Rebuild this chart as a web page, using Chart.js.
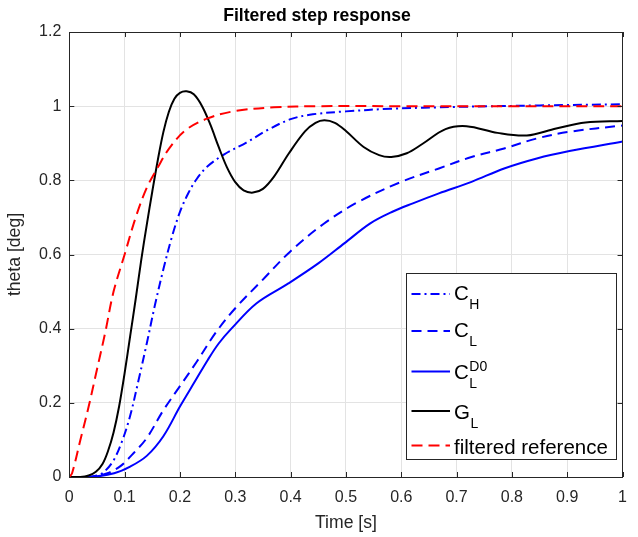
<!DOCTYPE html>
<html>
<head>
<meta charset="utf-8">
<script src="https://cdn.jsdelivr.net/npm/chart.js@4/dist/chart.umd.min.js"></script>
<style>
  html, body { margin: 0; padding: 0; background: #fff; }
  canvas { display: block; }
</style>
</head>
<body>
<canvas id="chart" width="638" height="537"></canvas>
<script>
// Tick labels
const xTicks = [0, 0.1, 0.2, 0.3, 0.4, 0.5, 0.6, 0.7, 0.8, 0.9, 1];
const yTicks = [0, 0.2, 0.4, 0.6, 0.8, 1, 1.2];

// C_H (dash-dot blue)
const tCH = [0, 0.03, 0.05, 0.063, 0.08, 0.095, 0.11, 0.125, 0.14, 0.155, 0.17, 0.185, 0.2, 0.215, 0.23, 0.25, 0.28, 0.32, 0.36, 0.4, 0.44, 0.5, 0.58, 0.7, 0.85, 1.0];
const yCH = [0, 0, 0.004, 0.014, 0.045, 0.095, 0.165, 0.26, 0.36, 0.465, 0.56, 0.645, 0.715, 0.765, 0.803, 0.838, 0.87, 0.902, 0.937, 0.965, 0.978, 0.986, 0.993, 0.998, 1.002, 1.005];

// C_L (dashed blue)
const tCL = [0, 0.04, 0.069, 0.093, 0.116, 0.14, 0.17, 0.2, 0.23, 0.265, 0.3, 0.349, 0.4, 0.46, 0.52, 0.6, 0.668, 0.727, 0.786, 0.845, 0.904, 1.0];
const yCL = [0, 0, 0.01, 0.03, 0.064, 0.105, 0.18, 0.245, 0.31, 0.39, 0.455, 0.531, 0.609, 0.683, 0.74, 0.796, 0.832, 0.863, 0.886, 0.913, 0.931, 0.948];

// C_L^D0 (solid blue)
const tCD = [0, 0.04, 0.081, 0.11, 0.14, 0.17, 0.2, 0.228, 0.25, 0.27, 0.293, 0.338, 0.396, 0.45, 0.497, 0.544, 0.585, 0.621, 0.668, 0.727, 0.786, 0.845, 0.904, 1.0];
const yCD = [0, 0, 0.01, 0.028, 0.057, 0.11, 0.19, 0.26, 0.315, 0.36, 0.4, 0.468, 0.522, 0.576, 0.63, 0.684, 0.716, 0.738, 0.765, 0.796, 0.832, 0.859, 0.879, 0.905];

// G_L (solid black)
const tGL = [0, 0.02, 0.035, 0.048, 0.06, 0.07, 0.08, 0.09, 0.1, 0.11, 0.12, 0.13, 0.14, 0.15, 0.16, 0.17, 0.18, 0.19, 0.2, 0.212, 0.225, 0.24, 0.255, 0.27, 0.285, 0.3, 0.315, 0.332, 0.35, 0.37, 0.397, 0.426, 0.445, 0.461, 0.48, 0.5, 0.532, 0.56, 0.582, 0.61, 0.638, 0.68, 0.718, 0.774, 0.827, 0.88, 0.933, 1.0];
const yGL = [0, 0, 0.004, 0.014, 0.035, 0.07, 0.12, 0.19, 0.28, 0.38, 0.48, 0.585, 0.68, 0.77, 0.855, 0.93, 0.985, 1.02, 1.036, 1.04, 1.032, 1.0, 0.95, 0.89, 0.835, 0.795, 0.773, 0.767, 0.777, 0.81, 0.873, 0.932, 0.955, 0.962, 0.955, 0.933, 0.89, 0.868, 0.863, 0.873, 0.898, 0.938, 0.946, 0.928, 0.921, 0.94, 0.956, 0.96];

// filtered reference (dashed red)
const tRef = [0, 0.005, 0.02, 0.035, 0.05, 0.065, 0.08, 0.1, 0.12, 0.14, 0.16, 0.18, 0.21, 0.25, 0.3, 0.37, 0.45, 0.6, 0.8, 1.0];
const yRef = [0, 0.01, 0.1, 0.19, 0.29, 0.39, 0.5, 0.6, 0.7, 0.78, 0.835, 0.885, 0.935, 0.967, 0.987, 0.997, 1.0, 1.0, 1.0, 1.0];

const toPts = (t, y) => t.map((v, i) => ({ x: v, y: y[i] }));

const AXIS = '#262626';
const FONT = "'Liberation Sans', Arial, Helvetica, sans-serif";

// legend entries: main text, subscript, superscript
const legendItems = [
    { main: 'C', sub: 'H', sup: '' },
    { main: 'C', sub: 'L', sup: '' },
    { main: 'C', sub: 'L', sup: 'D0' },
    { main: 'G', sub: 'L', sup: '' },
    { main: 'filtered reference', sub: '', sup: '' }
];

function mkSet(t, y, color, dash, order) {
    return {
        data: toPts(t, y),
        borderColor: color,
        borderWidth: 2,
        borderDash: dash,
        pointRadius: 0,
        fill: false,
        tension: 0.35,
        order: order
    };
}

// inward ticks + box, like matlab
const boxPlugin = {
    id: 'box',
    afterDatasetsDraw(chart) {
        const { ctx, chartArea: a, scales } = chart;
        ctx.save();
        ctx.strokeStyle = AXIS;
        ctx.lineWidth = 1;
        ctx.beginPath();
        xTicks.forEach(v => {
            const px = Math.round(scales.x.getPixelForValue(v)) + 0.5;
            ctx.moveTo(px, a.bottom); ctx.lineTo(px, a.bottom - 5);
            ctx.moveTo(px, a.top); ctx.lineTo(px, a.top + 5);
        });
        yTicks.forEach(v => {
            const py = Math.round(scales.y.getPixelForValue(v)) + 0.5;
            ctx.moveTo(a.left, py); ctx.lineTo(a.left + 5, py);
            ctx.moveTo(a.right, py); ctx.lineTo(a.right - 5, py);
        });
        ctx.stroke();
        ctx.strokeRect(Math.round(a.left) + 0.5, Math.round(a.top) + 0.5,
            Math.round(a.right - a.left), Math.round(a.bottom - a.top));
        ctx.restore();
    }
};

const legendPlugin = {
    id: 'mlegend',
    afterDraw(chart) {
        const ctx = chart.ctx;
        const bx = 406.5, by = 273.5, bw = 210, bh = 186;
        ctx.save();
        ctx.fillStyle = '#fff';
        ctx.fillRect(bx, by, bw, bh);
        ctx.strokeStyle = AXIS;
        ctx.lineWidth = 1;
        ctx.strokeRect(bx, by, bw, bh);

        const rows = [294, 331, 371.5, 411, 445.5];
        const base = [299.5, 337, 378.5, 418.5, 453.5];
        const sets = chart.data.datasets;
        legendItems.forEach((it, i) => {
            const ds = sets[i];
            ctx.strokeStyle = ds.borderColor;
            ctx.lineWidth = 2;
            ctx.setLineDash(ds.borderDash || []);
            ctx.beginPath();
            ctx.moveTo(411.5, rows[i]);
            ctx.lineTo(450, rows[i]);
            ctx.stroke();
            ctx.setLineDash([]);

            ctx.fillStyle = '#000';
            ctx.textBaseline = 'alphabetic';
            ctx.textAlign = 'left';
            ctx.font = '20.5px ' + FONT;
            ctx.fillText(it.main, 454, base[i]);
            const w = ctx.measureText(it.main).width;
            ctx.font = '14px ' + FONT;
            if (it.sub) ctx.fillText(it.sub, 454 + w + 0.5, base[i] + 9);
            if (it.sup) ctx.fillText(it.sup, 454 + w + 0.5, base[i] - 8);
        });
        ctx.restore();
    }
};

new Chart(document.getElementById('chart'), {
    type: 'line',
    data: {
        datasets: [
            mkSet(tCH, yCH, '#0000ff', [9, 4, 2, 4], 5),
            mkSet(tCL, yCL, '#0000ff', [10, 6], 4),
            mkSet(tCD, yCD, '#0000ff', [], 3),
            mkSet(tGL, yGL, '#000000', [], 2),
            mkSet(tRef, yRef, '#ff0000', [11, 6], 1)
        ]
    },
    options: {
        responsive: false,
        animation: false,
        devicePixelRatio: 1,
        layout: { padding: { left: 0, right: 4, top: 0, bottom: 0 } },
        plugins: {
            legend: { display: false },
            tooltip: { enabled: false },
            title: {
                display: true,
                text: 'Filtered step response',
                color: '#000',
                font: { family: FONT, size: 17.6, weight: 'bold', lineHeight: 1.2 },
                padding: { top: 6, bottom: 4.9 }
            }
        },
        scales: {
            x: {
                type: 'linear',
                min: 0, max: 1,
                afterBuildTicks: s => { s.ticks = xTicks.map(v => ({ value: v })); },
                afterFit: s => { s.height = 60; },
                grid: { color: '#e3e3e3', lineWidth: 1, drawTicks: false },
                border: { display: false },
                ticks: {
                    color: AXIS, padding: 11, maxRotation: 0,
                    font: { family: FONT, size: 16 },
                    callback: v => String(v)
                },
                title: {
                    display: true, text: 'Time [s]', color: AXIS,
                    font: { family: FONT, size: 17.6, lineHeight: 1.2 },
                    padding: { top: 0, bottom: 3.4 }
                }
            },
            y: {
                min: 0, max: 1.2,
                afterBuildTicks: s => { s.ticks = yTicks.map(v => ({ value: v })); },
                afterFit: s => { s.width = 69.3; },
                grid: { color: '#e3e3e3', lineWidth: 1, drawTicks: false },
                border: { display: false },
                ticks: {
                    color: AXIS, padding: 8,
                    font: { family: FONT, size: 16 },
                    callback: v => String(v)
                },
                title: {
                    display: true, text: 'theta [deg]', color: AXIS,
                    font: { family: FONT, size: 17.6, lineHeight: 1.2 },
                    padding: { top: 4.4, bottom: 0 }
                }
            }
        }
    },
    plugins: [boxPlugin, legendPlugin]
});
</script>
</body>
</html>
